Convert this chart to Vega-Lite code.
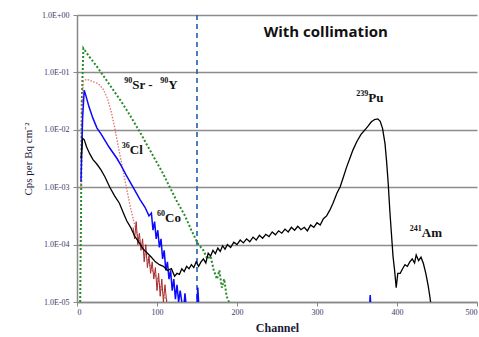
{
  "$schema": "https://vega.github.io/schema/vega-lite/v6.json",
  "autosize": {"type": "none"},
  "padding": {"left": 77, "top": 15, "right": 2, "bottom": 35},
  "width": 400,
  "height": 287,
  "background": "white",
  "config": {"view": {"stroke": null}},
  "datasets": {
    "curves": [
      {"s": "Sr", "ch": 4, "v": 1e-5}, {"s": "Sr", "ch": 5, "v": 3.16e-4}, {"s": "Sr", "ch": 6, "v": 3.16e-2}, {"s": "Sr", "ch": 8, "v": 0.263},
      {"s": "Sr", "ch": 15, "v": 0.191}, {"s": "Sr", "ch": 25, "v": 0.126}, {"s": "Sr", "ch": 35, "v": 0.0794}, {"s": "Sr", "ch": 45, "v": 0.0501},
      {"s": "Sr", "ch": 55, "v": 0.0316}, {"s": "Sr", "ch": 65, "v": 0.0191}, {"s": "Sr", "ch": 77, "v": 0.01}, {"s": "Sr", "ch": 87, "v": 5.62e-3},
      {"s": "Sr", "ch": 97, "v": 3.16e-3}, {"s": "Sr", "ch": 107, "v": 1.78e-3}, {"s": "Sr", "ch": 116, "v": 1e-3}, {"s": "Sr", "ch": 125, "v": 5.62e-4},
      {"s": "Sr", "ch": 135, "v": 3.16e-4}, {"s": "Sr", "ch": 143, "v": 1.78e-4}, {"s": "Sr", "ch": 151, "v": 1.05e-4}, {"s": "Sr", "ch": 158, "v": 7.94e-5},
      {"s": "Sr", "ch": 163, "v": 5.62e-5}, {"s": "Sr", "ch": 167, "v": 6.31e-5}, {"s": "Sr", "ch": 171, "v": 3.55e-5}, {"s": "Sr", "ch": 175, "v": 2.51e-5},
      {"s": "Sr", "ch": 178, "v": 3.55e-5}, {"s": "Sr", "ch": 181, "v": 1.78e-5}, {"s": "Sr", "ch": 184, "v": 2.51e-5}, {"s": "Sr", "ch": 187, "v": 1.26e-5},
      {"s": "Sr", "ch": 190, "v": 1e-5},

      {"s": "Red", "ch": 5, "v": 1e-3}, {"s": "Red", "ch": 6, "v": 2.51e-2}, {"s": "Red", "ch": 8, "v": 7.08e-2}, {"s": "Red", "ch": 12, "v": 7.59e-2},
      {"s": "Red", "ch": 20, "v": 6.92e-2}, {"s": "Red", "ch": 27, "v": 6.31e-2}, {"s": "Red", "ch": 33, "v": 5.01e-2}, {"s": "Red", "ch": 38, "v": 3.55e-2},
      {"s": "Red", "ch": 43, "v": 2.0e-2}, {"s": "Red", "ch": 47, "v": 1.12e-2}, {"s": "Red", "ch": 51, "v": 5.62e-3}, {"s": "Red", "ch": 56, "v": 2.51e-3},
      {"s": "Red", "ch": 61, "v": 1.12e-3}, {"s": "Red", "ch": 66, "v": 5.01e-4}, {"s": "Red", "ch": 71, "v": 2.51e-4}, {"s": "Red", "ch": 76, "v": 1.41e-4},
      {"s": "Red", "ch": 81, "v": 8.91e-5}, {"s": "Red", "ch": 86, "v": 6.31e-5}, {"s": "Red", "ch": 91, "v": 4.47e-5}, {"s": "Red", "ch": 96, "v": 3.16e-5},
      {"s": "Red", "ch": 101, "v": 2.51e-5}, {"s": "Red", "ch": 106, "v": 1.58e-5}, {"s": "Red", "ch": 111, "v": 1.12e-5}, {"s": "Red", "ch": 114, "v": 1e-5},

      {"s": "RedNoise", "ch": 70, "v": 2.0e-4}, {"s": "RedNoise", "ch": 72, "v": 1.26e-4}, {"s": "RedNoise", "ch": 74, "v": 2.51e-4}, {"s": "RedNoise", "ch": 76, "v": 1e-4},
      {"s": "RedNoise", "ch": 78, "v": 1.58e-4}, {"s": "RedNoise", "ch": 80, "v": 7.94e-5}, {"s": "RedNoise", "ch": 82, "v": 1.26e-4}, {"s": "RedNoise", "ch": 84, "v": 5.01e-5},
      {"s": "RedNoise", "ch": 86, "v": 1e-4}, {"s": "RedNoise", "ch": 88, "v": 3.98e-5}, {"s": "RedNoise", "ch": 90, "v": 6.31e-5}, {"s": "RedNoise", "ch": 92, "v": 3.16e-5},
      {"s": "RedNoise", "ch": 94, "v": 5.01e-5}, {"s": "RedNoise", "ch": 96, "v": 2.51e-5}, {"s": "RedNoise", "ch": 98, "v": 3.98e-5}, {"s": "RedNoise", "ch": 100, "v": 1.58e-5},
      {"s": "RedNoise", "ch": 102, "v": 3.16e-5}, {"s": "RedNoise", "ch": 104, "v": 1.26e-5}, {"s": "RedNoise", "ch": 106, "v": 2.51e-5}, {"s": "RedNoise", "ch": 108, "v": 1e-5},
      {"s": "RedNoise", "ch": 110, "v": 2.0e-5}, {"s": "RedNoise", "ch": 112, "v": 1e-5},

      {"s": "Blue", "ch": 5, "v": 1.26e-3}, {"s": "Blue", "ch": 7, "v": 1.58e-2}, {"s": "Blue", "ch": 9, "v": 4.9e-2}, {"s": "Blue", "ch": 11, "v": 3.98e-2},
      {"s": "Blue", "ch": 15, "v": 2.51e-2}, {"s": "Blue", "ch": 20, "v": 1.58e-2}, {"s": "Blue", "ch": 25, "v": 1.07e-2}, {"s": "Blue", "ch": 30, "v": 8.51e-3},
      {"s": "Blue", "ch": 40, "v": 5.01e-3}, {"s": "Blue", "ch": 50, "v": 3.16e-3}, {"s": "Blue", "ch": 55, "v": 2.4e-3}, {"s": "Blue", "ch": 62, "v": 1.58e-3},
      {"s": "Blue", "ch": 70, "v": 1e-3}, {"s": "Blue", "ch": 79, "v": 6.03e-4}, {"s": "Blue", "ch": 85, "v": 4.47e-4}, {"s": "Blue", "ch": 90, "v": 3.16e-4},
      {"s": "Blue", "ch": 93, "v": 3.55e-4}, {"s": "Blue", "ch": 95, "v": 1.78e-4}, {"s": "Blue", "ch": 97, "v": 2.51e-4}, {"s": "Blue", "ch": 99, "v": 1.26e-4},
      {"s": "Blue", "ch": 101, "v": 1.78e-4}, {"s": "Blue", "ch": 103, "v": 8.91e-5}, {"s": "Blue", "ch": 105, "v": 1.26e-4}, {"s": "Blue", "ch": 107, "v": 5.62e-5},
      {"s": "Blue", "ch": 109, "v": 7.94e-5}, {"s": "Blue", "ch": 111, "v": 3.55e-5}, {"s": "Blue", "ch": 113, "v": 5.01e-5}, {"s": "Blue", "ch": 115, "v": 2.51e-5},
      {"s": "Blue", "ch": 117, "v": 3.55e-5}, {"s": "Blue", "ch": 119, "v": 1.58e-5}, {"s": "Blue", "ch": 121, "v": 2.51e-5}, {"s": "Blue", "ch": 123, "v": 1.12e-5},
      {"s": "Blue", "ch": 125, "v": 2.0e-5}, {"s": "Blue", "ch": 127, "v": 1e-5}, {"s": "Blue", "ch": 129, "v": 1.58e-5}, {"s": "Blue", "ch": 131, "v": 1e-5},
      {"s": "Blue spike 1", "ch": 134, "v": 1e-5}, {"s": "Blue spike 1", "ch": 135, "v": 1.41e-5}, {"s": "Blue spike 1", "ch": 136, "v": 1e-5},
      {"s": "Blue spike 2", "ch": 150, "v": 1e-5}, {"s": "Blue spike 2", "ch": 151, "v": 1.78e-5}, {"s": "Blue spike 2", "ch": 152, "v": 1e-5},
      {"s": "Blue spike 3", "ch": 366, "v": 1e-5}, {"s": "Blue spike 3", "ch": 366.5, "v": 1.32e-5}, {"s": "Blue spike 3", "ch": 367, "v": 1e-5},

      {"s": "Black", "ch": 5, "v": 3.16e-3}, {"s": "Black", "ch": 7, "v": 7.08e-3}, {"s": "Black", "ch": 9, "v": 6.76e-3}, {"s": "Black", "ch": 12, "v": 5.01e-3},
      {"s": "Black", "ch": 16, "v": 3.8e-3}, {"s": "Black", "ch": 20, "v": 3.02e-3}, {"s": "Black", "ch": 25, "v": 2.51e-3}, {"s": "Black", "ch": 30, "v": 2.0e-3},
      {"s": "Black", "ch": 35, "v": 1.51e-3}, {"s": "Black", "ch": 41, "v": 1e-3}, {"s": "Black", "ch": 47, "v": 7.08e-4}, {"s": "Black", "ch": 53, "v": 5.25e-4},
      {"s": "Black", "ch": 58, "v": 3.55e-4}, {"s": "Black", "ch": 62, "v": 2.63e-4}, {"s": "Black", "ch": 67, "v": 2.0e-4}, {"s": "Black", "ch": 72, "v": 1.41e-4},
      {"s": "Black", "ch": 77, "v": 1.12e-4}, {"s": "Black", "ch": 83, "v": 8.32e-5}, {"s": "Black", "ch": 88, "v": 7.08e-5}, {"s": "Black", "ch": 93, "v": 6.03e-5},
      {"s": "Black", "ch": 98, "v": 5.01e-5}, {"s": "Black", "ch": 103, "v": 4.47e-5}, {"s": "Black", "ch": 108, "v": 4.17e-5}, {"s": "Black", "ch": 113, "v": 3.55e-5},
      {"s": "Black", "ch": 118, "v": 3.8e-5}, {"s": "Black", "ch": 122, "v": 2.82e-5}, {"s": "Black", "ch": 125, "v": 3.16e-5}, {"s": "Black", "ch": 128, "v": 3.02e-5},
      {"s": "Black", "ch": 131, "v": 3.8e-5}, {"s": "Black", "ch": 134, "v": 3.39e-5}, {"s": "Black", "ch": 137, "v": 4.17e-5}, {"s": "Black", "ch": 140, "v": 3.8e-5},
      {"s": "Black", "ch": 143, "v": 4.47e-5}, {"s": "Black", "ch": 146, "v": 3.98e-5}, {"s": "Black", "ch": 149, "v": 5.01e-5}, {"s": "Black", "ch": 152, "v": 4.17e-5},
      {"s": "Black", "ch": 155, "v": 5.01e-5}, {"s": "Black", "ch": 158, "v": 5.62e-5}, {"s": "Black", "ch": 161, "v": 4.79e-5}, {"s": "Black", "ch": 164, "v": 7.08e-5},
      {"s": "Black", "ch": 167, "v": 6.31e-5}, {"s": "Black", "ch": 170, "v": 7.94e-5}, {"s": "Black", "ch": 173, "v": 6.92e-5}, {"s": "Black", "ch": 176, "v": 8.71e-5},
      {"s": "Black", "ch": 179, "v": 7.59e-5}, {"s": "Black", "ch": 182, "v": 9.55e-5}, {"s": "Black", "ch": 185, "v": 8.32e-5}, {"s": "Black", "ch": 188, "v": 1e-4},
      {"s": "Black", "ch": 192, "v": 8.91e-5}, {"s": "Black", "ch": 196, "v": 1.1e-4}, {"s": "Black", "ch": 200, "v": 1e-4}, {"s": "Black", "ch": 204, "v": 1.2e-4},
      {"s": "Black", "ch": 208, "v": 1.07e-4}, {"s": "Black", "ch": 212, "v": 1.26e-4}, {"s": "Black", "ch": 216, "v": 1.12e-4}, {"s": "Black", "ch": 220, "v": 1.35e-4},
      {"s": "Black", "ch": 224, "v": 1.2e-4}, {"s": "Black", "ch": 228, "v": 1.45e-4}, {"s": "Black", "ch": 232, "v": 1.29e-4}, {"s": "Black", "ch": 236, "v": 1.51e-4},
      {"s": "Black", "ch": 240, "v": 1.38e-4}, {"s": "Black", "ch": 244, "v": 1.66e-4}, {"s": "Black", "ch": 248, "v": 1.48e-4}, {"s": "Black", "ch": 252, "v": 1.74e-4},
      {"s": "Black", "ch": 256, "v": 1.58e-4}, {"s": "Black", "ch": 260, "v": 1.86e-4}, {"s": "Black", "ch": 264, "v": 1.66e-4}, {"s": "Black", "ch": 268, "v": 2.0e-4},
      {"s": "Black", "ch": 272, "v": 1.78e-4}, {"s": "Black", "ch": 276, "v": 2.09e-4}, {"s": "Black", "ch": 280, "v": 1.82e-4}, {"s": "Black", "ch": 284, "v": 2.0e-4},
      {"s": "Black", "ch": 288, "v": 1.74e-4}, {"s": "Black", "ch": 292, "v": 2.19e-4}, {"s": "Black", "ch": 296, "v": 2.0e-4}, {"s": "Black", "ch": 300, "v": 2.4e-4},
      {"s": "Black", "ch": 304, "v": 2.19e-4}, {"s": "Black", "ch": 308, "v": 2.82e-4}, {"s": "Black", "ch": 312, "v": 3.16e-4}, {"s": "Black", "ch": 316, "v": 3.98e-4},
      {"s": "Black", "ch": 320, "v": 5.25e-4}, {"s": "Black", "ch": 325, "v": 7.94e-4}, {"s": "Black", "ch": 329, "v": 1.02e-3}, {"s": "Black", "ch": 333, "v": 1.51e-3},
      {"s": "Black", "ch": 337, "v": 2.24e-3}, {"s": "Black", "ch": 341, "v": 3.16e-3}, {"s": "Black", "ch": 345, "v": 4.47e-3}, {"s": "Black", "ch": 350, "v": 6.31e-3},
      {"s": "Black", "ch": 355, "v": 8.32e-3}, {"s": "Black", "ch": 360, "v": 1e-2}, {"s": "Black", "ch": 364, "v": 1.17e-2}, {"s": "Black", "ch": 368, "v": 1.38e-2},
      {"s": "Black", "ch": 372, "v": 1.51e-2}, {"s": "Black", "ch": 376, "v": 1.55e-2}, {"s": "Black", "ch": 379, "v": 1.41e-2}, {"s": "Black", "ch": 382, "v": 1.05e-2},
      {"s": "Black", "ch": 385, "v": 5.75e-3}, {"s": "Black", "ch": 387, "v": 2.82e-3}, {"s": "Black", "ch": 389, "v": 1.17e-3}, {"s": "Black", "ch": 391, "v": 3.98e-4},
      {"s": "Black", "ch": 393, "v": 1.58e-4}, {"s": "Black", "ch": 395, "v": 6.31e-5}, {"s": "Black", "ch": 397, "v": 3.55e-5}, {"s": "Black", "ch": 399, "v": 1.78e-5},
      {"s": "Black", "ch": 401, "v": 3.16e-5}, {"s": "Black", "ch": 404, "v": 3.16e-5}, {"s": "Black", "ch": 407, "v": 3.8e-5}, {"s": "Black", "ch": 410, "v": 4.47e-5},
      {"s": "Black", "ch": 413, "v": 4.17e-5}, {"s": "Black", "ch": 416, "v": 5.01e-5}, {"s": "Black", "ch": 419, "v": 5.62e-5}, {"s": "Black", "ch": 422, "v": 4.79e-5},
      {"s": "Black", "ch": 424, "v": 6.61e-5}, {"s": "Black", "ch": 427, "v": 5.25e-5}, {"s": "Black", "ch": 430, "v": 6.03e-5}, {"s": "Black", "ch": 433, "v": 4.68e-5},
      {"s": "Black", "ch": 436, "v": 3.16e-5}, {"s": "Black", "ch": 439, "v": 1.91e-5}, {"s": "Black", "ch": 441, "v": 1.26e-5}, {"s": "Black", "ch": 442, "v": 1e-5}
    ],
    "labels": [
      {"sup": "90", "base": "Sr -", "ch": 69, "v": 0.06},
      {"sup": "90", "base": "Y", "ch": 114, "v": 0.06},
      {"sup": "239", "base": "Pu", "ch": 364, "v": 0.0355},
      {"sup": "36", "base": "Cl", "ch": 66, "v": 0.0045},
      {"sup": "60", "base": "Co", "ch": 110, "v": 2.9e-4},
      {"sup": "241", "base": "Am", "ch": 431, "v": 1.6e-4}
    ],
    "heading": [{"t": "With collimation", "ch": 311, "v": 0.506}],
    "marker": [{"ch": 150}]
  },
  "layer": [
    {
      "data": {"name": "marker"},
      "mark": {"type": "rule", "color": "#1f5fae", "strokeDash": [5, 4], "strokeWidth": 1.6},
      "encoding": {
        "x": {"field": "ch", "type": "quantitative", "scale": {"domain": [0, 500], "nice": false},
          "axis": {"values": [0, 100, 200, 300, 400, 500], "grid": false, "title": "Channel",
            "titleFont": "Liberation Serif", "titleFontSize": 12, "titleFontWeight": "bold", "titleColor": "#1a1a3a", "titlePadding": 6,
            "labelFont": "Liberation Serif", "labelFontSize": 8, "labelColor": "#3a3a6a",
            "domainColor": "#888888", "domainWidth": 1.5, "tickColor": "#888888", "tickSize": 4, "labelPadding": 2}}
      }
    },
    {
      "data": {"name": "curves"},
      "transform": [{"filter": {"field": "s", "equal": "Sr"}}],
      "mark": {"type": "line", "color": "#2a8a2a", "strokeDash": [2, 2], "strokeWidth": 2, "clip": true},
      "encoding": {
        "x": {"field": "ch", "type": "quantitative"},
        "y": {"field": "v", "type": "quantitative", "scale": {"type": "log", "domain": [1e-5, 1], "nice": false},
          "axis": {"values": [1e-5, 1e-4, 1e-3, 1e-2, 1e-1, 1],
            "labelExpr": "'1.0E' + (round(log(datum.value)/LN10) < 0 ? '-' : '+') + '0' + abs(round(log(datum.value)/LN10))",
            "grid": true, "gridColor": "#8c8c8c", "gridWidth": 1.5,
            "title": "Cps per Bq cm⁻²", "titleFont": "Liberation Serif", "titleFontSize": 11, "titleFontWeight": "normal", "titleColor": "#1a1a3a", "titlePadding": 8,
            "labelFont": "Liberation Serif", "labelFontSize": 8, "labelColor": "#3a3a6a",
            "domainColor": "#888888", "domainWidth": 1.5, "tickColor": "#888888", "tickSize": 4, "labelPadding": 4}}
      }
    },
    {
      "data": {"name": "curves"},
      "transform": [{"filter": {"field": "s", "equal": "Red"}}],
      "mark": {"type": "line", "color": "#e07070", "strokeDash": [1.5, 1.5], "strokeWidth": 1.3, "clip": true},
      "encoding": {"x": {"field": "ch", "type": "quantitative"}, "y": {"field": "v", "type": "quantitative"}}
    },
    {
      "data": {"name": "curves"},
      "transform": [{"filter": {"field": "s", "equal": "RedNoise"}}],
      "mark": {"type": "line", "color": "#a52a2a", "strokeWidth": 1, "clip": true},
      "encoding": {"x": {"field": "ch", "type": "quantitative"}, "y": {"field": "v", "type": "quantitative"}}
    },
    {
      "data": {"name": "curves"},
      "transform": [{"filter": {"field": "s", "oneOf": ["Blue", "Blue spike 1", "Blue spike 2", "Blue spike 3"]}}],
      "mark": {"type": "line", "color": "#0a0aff", "strokeWidth": 1.5, "clip": true},
      "encoding": {"x": {"field": "ch", "type": "quantitative"}, "y": {"field": "v", "type": "quantitative"}, "detail": {"field": "s"}}
    },
    {
      "data": {"name": "curves"},
      "transform": [{"filter": {"field": "s", "equal": "Black"}}],
      "mark": {"type": "line", "color": "#000000", "strokeWidth": 1.3, "clip": true},
      "encoding": {"x": {"field": "ch", "type": "quantitative"}, "y": {"field": "v", "type": "quantitative"}}
    },
    {
      "data": {"name": "labels"},
      "mark": {"type": "text", "font": "Liberation Serif", "fontSize": 13, "fontWeight": "bold", "color": "#111111", "align": "left", "baseline": "middle"},
      "encoding": {"x": {"field": "ch", "type": "quantitative"}, "y": {"field": "v", "type": "quantitative"}, "text": {"field": "base"}}
    },
    {
      "data": {"name": "labels"},
      "mark": {"type": "text", "font": "Liberation Serif", "fontSize": 8, "fontWeight": "bold", "color": "#111111", "align": "right", "baseline": "middle", "dy": -4},
      "encoding": {"x": {"field": "ch", "type": "quantitative"}, "y": {"field": "v", "type": "quantitative"}, "text": {"field": "sup"}}
    },
    {
      "data": {"name": "heading"},
      "mark": {"type": "text", "font": "Open Sans", "fontSize": 15, "fontWeight": "bold", "color": "#111111", "align": "center", "baseline": "middle"},
      "encoding": {"x": {"field": "ch", "type": "quantitative"}, "y": {"field": "v", "type": "quantitative"}, "text": {"field": "t"}}
    }
  ]
}
